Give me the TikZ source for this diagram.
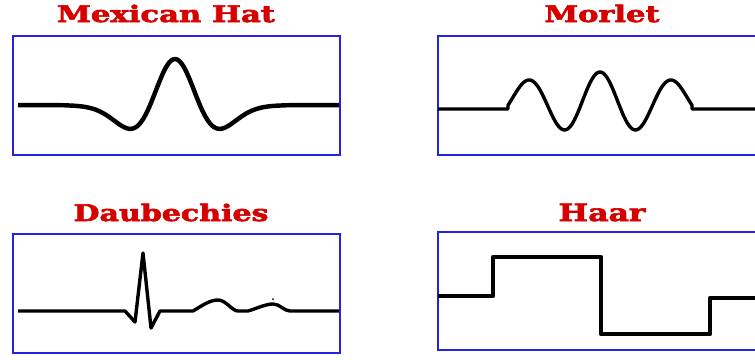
\documentclass[tikz,border=0pt]{standalone}
\usepackage{fontspec}
\setmainfont{DejaVu Serif}
\newfontfamily\titlefont{DejaVu Serif}[BoldFeatures={FakeBold=2.5}]
\usepackage{graphicx}
\definecolor{boxblue}{RGB}{35,35,225}
\definecolor{titlered}{RGB}{215,0,0}
\newcommand{\wtitle}[2]{\resizebox{#2}{0.52cm}{\titlefont\bfseries #1}}
\tikzset{
  frame/.style={draw=boxblue, line width=1.6pt},
  wave/.style={draw=black, line width=3pt, line join=round},
  title/.style={anchor=base, text=titlered, inner sep=0pt}
}
\begin{document}
\begin{tikzpicture}[x=0.03cm, y=-0.03cm]
    \useasboundingbox (0,0) rectangle (755,359);
    \clip (0,0) rectangle (755,359);
    % titles
    \node[title] (mexhat) at (166,22) {\wtitle{Mexican Hat}{6.54cm}};
    \node[title] (morlet) at (602,22) {\wtitle{Morlet}{3.45cm}};
    \node[title] (daub) at (171,221) {\wtitle{Daubechies}{5.85cm}};
    \node[title] (haar) at (602,221) {\wtitle{Haar}{2.61cm}};
    % frames
    \draw[frame] (13,36) rectangle (340,155);
    \draw[frame] (438,36) rectangle (790,155);
    \draw[frame] (13,234) rectangle (340,353);
    \draw[frame] (438,232) rectangle (790,350);
    % mexican hat
    \draw[wave, line width=3.8pt, samples=160, smooth, domain=18:339]
        plot (\x, {107-49*(1-((\x-175)/26)^2)*exp(-((\x-175)/26)^2/2)+3*exp(-((\x-175)/70)^2)-2});
    % morlet
    \draw[wave, line width=2.9pt] (438,109) -- (508,109)
        -- plot[samples=120, smooth, domain=508:692] (\x, {109-6.9-30.1*0.925^(((\x-600)/36)^2)*cos(5*(\x-600))})
        -- (692,109) -- (790,109);
    % daubechies
    \draw[wave, line width=2.9pt] (18,311) -- (125,311) -- (135,322) -- (143,253) -- (151,328) -- (160,311) -- (193,311)
        .. controls (203,305) and (210,300) .. (218,300)
        .. controls (226,300) and (232,311) .. (238,311) -- (248,311)
        .. controls (258,308) and (266,304) .. (273,304)
        .. controls (280,304) and (284,311) .. (290,311) -- (339,311);
    \fill (273,299) circle (1);
    % haar
    \draw[wave, line width=3.6pt] (438,296) -- (493,296) -- (493,257) -- (601,257) -- (601,334)
        -- (710,334) -- (710,298) -- (790,298);
\end{tikzpicture}
\end{document}
